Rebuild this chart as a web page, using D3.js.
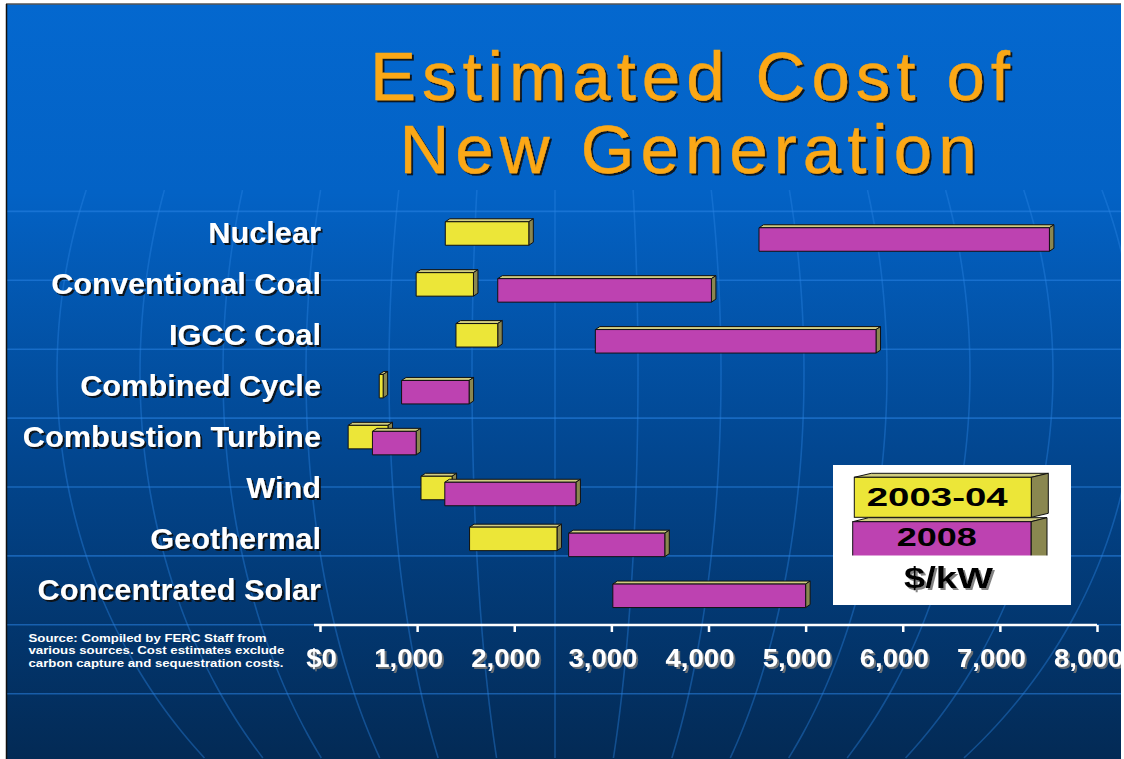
<!DOCTYPE html>
<style>
    body { margin: 0; background: #fff; }
    text { font-family: "Liberation Sans", Arial, sans-serif; }
</style>

<svg width="1124" height="759"></svg>

<script src="https://d3js.org/d3.v7.min.js"></script>
<script>

var categories = ["Nuclear", "Conventional Coal", "IGCC Coal", "Combined Cycle",
    "Combustion Turbine", "Wind", "Geothermal", "Concentrated Solar"];

// $/kW ranges, low and high end of each bar
var low2003 = [1290, 990, 1400, 610, 290, 1040, 1540, null];
var high2003 = [2150, 1580, 1830, 650, 700, 1360, 2440, null];
var low2008 = [4520, 1830, 2835, 840, 540, 1285, 2560, 3015];
var high2008 = [7510, 4030, 5725, 1535, 990, 2635, 3550, 5000];

var tickValues = [0, 1000, 2000, 3000, 4000, 5000, 6000, 7000, 8000];
var seriesNames = ["2003-04", "2008"];
var sourceLines = ["Source: Compiled by FERC Staff from",
                   "various sources. Cost estimates exclude",
                   "carbon capture and sequestration costs."];

var svg = d3.select("svg"),
    width = +svg.attr("width"),
    height = +svg.attr("height");

var defs = svg.append("defs");

var grad = defs.append("linearGradient")
    .attr("id", "bg")
    .attr("x1", 0).attr("y1", 0).attr("x2", 0).attr("y2", 1);
grad.append("stop").attr("offset", "0").attr("stop-color", "#0468cf");
grad.append("stop").attr("offset", "0.25").attr("stop-color", "#0362c5");
grad.append("stop").attr("offset", "0.6").attr("stop-color", "#02468f");
grad.append("stop").attr("offset", "1").attr("stop-color", "#032a55");

defs.append("clipPath").attr("id", "slide")
  .append("rect")
    .attr("x", 6).attr("y", 4).attr("width", 1115).attr("height", 755);

var shadow = defs.append("filter").attr("id", "shadow")
    .attr("x", "-5%").attr("y", "-10%").attr("width", "115%").attr("height", "130%");
shadow.append("feDropShadow")
    .attr("dx", 2).attr("dy", 2).attr("stdDeviation", 0.4)
    .attr("flood-color", "#0a0a0a").attr("flood-opacity", 0.9);

var softShadow = defs.append("filter").attr("id", "softShadow");
softShadow.append("feDropShadow")
    .attr("dx", 2).attr("dy", 2).attr("stdDeviation", 0.5)
    .attr("flood-color", "#777").attr("flood-opacity", 0.9);

var slide = svg.append("g").attr("clip-path", "url(#slide)");

slide.append("rect")
    .attr("x", 6).attr("y", 4).attr("width", 1115).attr("height", 755)
    .attr("fill", "url(#bg)");

// background globe lines
var lines = slide.append("g")
    .attr("fill", "none")
    .attr("stroke", "#2a84e4");

d3.range(3, 11).forEach(function(k) {
  var y = 4.7 + 68.9 * k;
  lines.append("line")
      .attr("x1", 6).attr("x2", 1121)
      .attr("y1", y).attr("y2", y)
      .attr("stroke-width", 1.6)
      .attr("stroke-opacity", 0.55);
});

var meridian = d3.line().curve(d3.curveBasis);
d3.range(-6, 8).forEach(function(i) {
  var off = 83 * i;
  var pts = d3.range(190, 762, 8).map(function(y) {
    var t = (y - 373) / 542;
    return [555 + off * Math.sqrt(Math.max(0, 1 - t * t)), y];
  });
  lines.append("path")
      .attr("d", meridian(pts))
      .attr("stroke-width", 1.6)
      .attr("stroke-opacity", 0.4);
});

// slide frame
svg.append("line").attr("x1", 6).attr("x2", 1121).attr("y1", 4).attr("y2", 4)
    .attr("stroke", "#555").attr("stroke-width", 1.5);
svg.append("line").attr("x1", 6.5).attr("x2", 6.5).attr("y1", 4).attr("y2", 759)
    .attr("stroke", "#111").attr("stroke-width", 1.5);

// title
var title = slide.append("g")
    .attr("fill", "#fba815")
    .attr("stroke", "#fba815")
    .attr("stroke-width", 0.4)
    .attr("font-size", 69)
    .attr("text-anchor", "middle")
    .attr("filter", "url(#shadow)");
title.append("text")
    .attr("x", 690).attr("y", 100)
    .attr("textLength", 640).attr("lengthAdjust", "spacing")
    .text("Estimated Cost of");
title.append("text")
    .attr("x", 688).attr("y", 173)
    .attr("textLength", 577).attr("lengthAdjust", "spacing")
    .text("New Generation");

var x = d3.scaleLinear()
    .domain([0, 8000])
    .range([320, 1097]);

var y = d3.scalePoint()
    .domain(categories)
    .range([232.5, 588.8]);

var barH = 23.5, dx = 4.5, dy = 3;
var faceColor = ["#ece638", "#bd42b1"];
var seriesShift = [1, 7];

// stretch text a little wider, like the slide's fonts
function widen(sel, k) {
  sel.each(function() {
    var w = this.getComputedTextLength();
    d3.select(this)
        .attr("textLength", w * k)
        .attr("lengthAdjust", "spacingAndGlyphs");
  });
}

// category labels
slide.append("g")
    .attr("fill", "#fff")
    .attr("font-size", 29)
    .attr("font-weight", "bold")
    .attr("text-anchor", "end")
    .attr("filter", "url(#shadow)")
  .selectAll("text")
  .data(categories)
  .enter().append("text")
    .attr("x", 321)
    .attr("y", function(d) { return y(d) + 10.8; })
    .text(function(d) { return d; })
    .call(widen, 1.06);

function box(g, x0, x1, y0, h, fill, ddx, ddy) {
  var y1 = y0 + h;
  g.append("polygon")
      .attr("points", [[x0, y0], [x0 + ddx, y0 - ddy], [x1 + ddx, y0 - ddy], [x1, y0]].join(" "))
      .attr("fill", "#d0cc80");
  g.append("polygon")
      .attr("points", [[x1, y0], [x1 + ddx, y0 - ddy], [x1 + ddx, y1 - ddy], [x1, y1]].join(" "))
      .attr("fill", "#8a8750");
  g.append("rect")
      .attr("x", x0).attr("y", y0)
      .attr("width", x1 - x0).attr("height", h)
      .attr("fill", fill);
}

var rows = [
  categories.map(function(c, i) { return {c: c, lo: low2003[i], hi: high2003[i]}; }),
  categories.map(function(c, i) { return {c: c, lo: low2008[i], hi: high2008[i]}; })
];

rows.forEach(function(series, s) {
  var g = slide.append("g")
      .attr("stroke", "#111")
      .attr("stroke-width", 1)
      .attr("stroke-linejoin", "round");
  series.filter(function(d) { return d.lo != null; }).forEach(function(d) {
    var yc = y(d.c) + seriesShift[s];
    box(g.append("g"), x(d.lo), x(d.hi), yc - barH / 2, barH, faceColor[s], dx, dy);
  });
});

// x axis
var axis = slide.append("g")
    .attr("transform", "translate(0,625)")
    .call(d3.axisBottom(x)
        .tickValues(tickValues)
        .tickSize(7)
        .tickSizeOuter(0)
        .tickFormat(function(d) { return d === 0 ? "$0" : d3.format(",")(d); }));

axis.select(".domain").remove();
axis.append("line")
    .attr("x1", x(0) - 6).attr("x2", x(8000))
    .attr("stroke", "#fff").attr("stroke-width", 2.5);
axis.selectAll(".tick line")
    .attr("stroke", "#fff").attr("stroke-width", 2.5);
axis.selectAll(".tick text")
    .attr("fill", "#fff")
    .attr("font-family", "Liberation Sans, Arial, sans-serif")
    .attr("font-size", 26)
    .attr("font-weight", "bold")
    .attr("y", 42)
    .attr("dy", null)
    .attr("dx", function(d) { return d === 0 ? 1 : -9; })
    .attr("filter", "url(#softShadow)")
    .call(widen, 1.06);

// source note
slide.append("text")
    .attr("fill", "#fff")
    .attr("font-size", 11.5)
    .attr("font-weight", "bold")
  .selectAll("tspan")
  .data(sourceLines)
  .enter().append("tspan")
    .attr("x", 28.5)
    .attr("y", function(d, i) { return 641.7 + i * 12.5; })
    .text(function(d) { return d; })
    .call(widen, 1.15);

// legend
var legend = slide.append("g");
legend.append("rect")
    .attr("x", 833).attr("y", 465).attr("width", 238).attr("height", 140)
    .attr("fill", "#fff");

var lg = legend.append("g").attr("stroke", "#111").attr("stroke-width", 1);
box(lg.append("g"), 854.3, 1031.3, 477.3, 40, faceColor[0], 17, 4);
box(lg.append("g"), 852.7, 1031, 521.7, 40, faceColor[1], 16, 4);
legend.append("rect")
    .attr("x", 840).attr("y", 555.5).attr("width", 225).attr("height", 12)
    .attr("fill", "#fff");

legend.append("text")
    .attr("x", 866.7).attr("y", 505.7)
    .attr("font-size", 26).attr("font-weight", "bold").attr("fill", "#000")
    .attr("textLength", 141).attr("lengthAdjust", "spacingAndGlyphs")
    .text(seriesNames[0]);
legend.append("text")
    .attr("x", 896.7).attr("y", 546)
    .attr("font-size", 25).attr("font-weight", "bold").attr("fill", "#000")
    .attr("textLength", 80).attr("lengthAdjust", "spacingAndGlyphs")
    .text(seriesNames[1]);
legend.append("text")
    .attr("x", 904).attr("y", 588.3)
    .attr("font-size", 29).attr("font-weight", "bold").attr("fill", "#000")
    .attr("textLength", 89).attr("lengthAdjust", "spacingAndGlyphs")
    .attr("filter", "url(#softShadow)")
    .text("$/kW");

</script>
